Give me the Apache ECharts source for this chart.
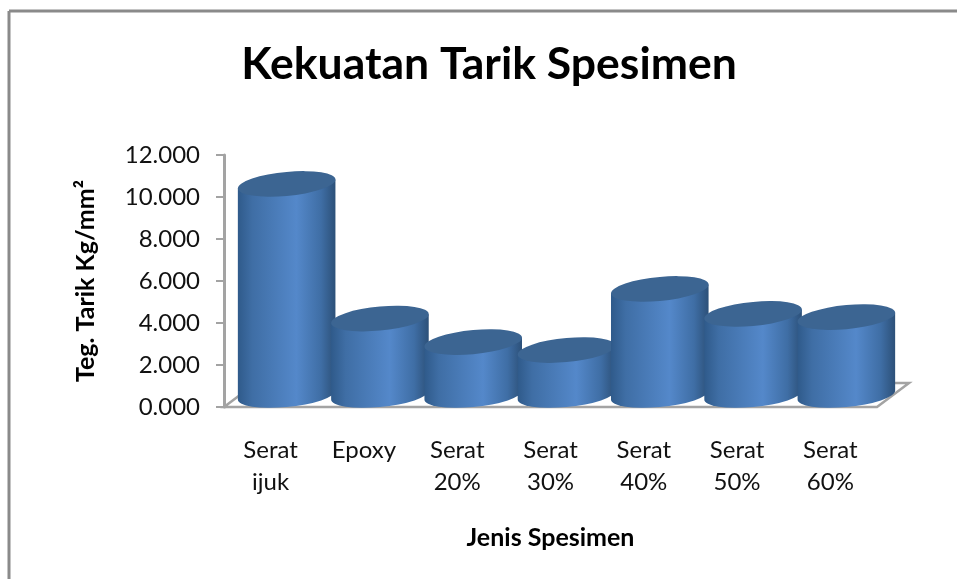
<!DOCTYPE html>
<html><head><meta charset="utf-8">
<style>html,body{margin:0;padding:0;background:#fff}#c{width:957px;height:579px}</style>
<script src="https://cdn.jsdelivr.net/npm/echarts@6/dist/echarts.min.js"></script>
</head><body><div id="c"></div>
<script>
const categories = ['Serat\nijuk','Epoxy','Serat\n20%','Serat\n30%','Serat\n40%','Serat\n50%','Serat\n60%'];
const values = [10.05,3.64,2.52,2.14,5.05,3.86,3.71];
const titleText = 'Kekuatan Tarik Spesimen';
const xName = 'Jenis Spesimen';
const yName = 'Teg. Tarik Kg/mm²';
const font = 'Lato';
const DX = 16, DY = -12, RX = 49, RY = 12, ROT = 5.5;
const FLOOR_DX = 32, FLOOR_DY = -24;
const GREY = '#a3a3a3';
const chart = echarts.init(document.getElementById('c'), null, {renderer:'canvas'});
function bodyFill(){
  return new echarts.graphic.LinearGradient(0,0,1,0,[
    {offset:0,color:'#2f5a8a'},{offset:0.15,color:'#3f6ea5'},{offset:0.6,color:'#5488ca'},
    {offset:0.85,color:'#3f6ea5'},{offset:1,color:'#2c5078'}]);
}
chart.setOption({
  animation:false,
  backgroundColor:'#fff',
  title:{text:titleText,left:484,top:37,textAlign:'center',
    textStyle:{fontFamily:font,fontWeight:'bold',fontSize:44.5,color:'#000'}},
  grid:{left:224,top:155,width:653,height:252},
  xAxis:{type:'category',data:categories,name:xName,nameLocation:'middle',nameGap:118,
    nameTextStyle:{fontFamily:font,fontWeight:'bold',fontSize:25,color:'#000'},
    axisLine:{show:false},axisTick:{show:false},
    axisLabel:{fontFamily:font,fontSize:24,color:'#111',lineHeight:32,margin:27,interval:0},
    splitLine:{show:false}},
  yAxis:{type:'value',min:0,max:12,interval:2,name:yName,nameLocation:'middle',nameGap:126,
    nameTextStyle:{fontFamily:font,fontWeight:'bold',fontSize:25,color:'#000'},
    axisLine:{show:true,lineStyle:{color:GREY,width:3}},
    axisTick:{show:true,length:8,lineStyle:{color:GREY,width:2}},
    axisLabel:{fontFamily:font,fontSize:24,color:'#111',margin:24,padding:[4,0,0,0],formatter:v=>v.toFixed(3)},
    splitLine:{show:false}},
  graphic:[
    {type:'line',silent:true,z:-1,shape:{x1:9,y1:11,x2:957,y2:11},style:{stroke:'#8a8a8a',lineWidth:3}},
    {type:'line',silent:true,z:-1,shape:{x1:9,y1:11,x2:9,y2:579},style:{stroke:'#8a8a8a',lineWidth:3}}
  ],
  series:[
    {type:'custom',data:[0],z:1,silent:true,renderItem(p,api){
      const g=p.coordSys, y0=g.y+g.height, x0=g.x, x1=g.x+g.width;
      return {type:'polygon',shape:{points:[[x0,y0],[x1,y0],[x1+FLOOR_DX,y0+FLOOR_DY],[x0+FLOOR_DX,y0+FLOOR_DY]]},
        style:{fill:'#fff',stroke:GREY,lineWidth:2.5}};
    }},
    {type:'custom',data:values.map((v,i)=>[i,v]),z:2,silent:true,encode:{x:0,y:1},renderItem(p,api){
      const top=api.coord([api.value(0),api.value(1)]), base=api.coord([api.value(0),0]);
      const cx=top[0]+DX, ty=top[1]+DY, by=base[1]+DY;
      const a=ROT*Math.PI/180, t=Math.atan(RY*Math.sin(a)/(RX*Math.cos(a)));
      const dx=RX*Math.cos(t)*Math.cos(a)+RY*Math.sin(t)*Math.sin(a);
      const dy=RX*Math.cos(t)*Math.sin(a)-RY*Math.sin(t)*Math.cos(a);
      const body=`M${cx-dx} ${ty+dy}L${cx-dx} ${by+dy}A${RX} ${RY} ${-ROT} 0 0 ${cx+dx} ${by-dy}L${cx+dx} ${ty-dy}Z`;
      const cap=`M${cx-dx} ${ty+dy}A${RX} ${RY} ${-ROT} 1 1 ${cx+dx} ${ty-dy}A${RX} ${RY} ${-ROT} 1 1 ${cx-dx} ${ty+dy}Z`;
      return {type:'group',children:[
        {type:'path',shape:{pathData:body},style:{fill:bodyFill()}},
        {type:'path',shape:{pathData:cap},style:{fill:'#3c6592'}}
      ]};
    }}
  ]
});
</script></body></html>
